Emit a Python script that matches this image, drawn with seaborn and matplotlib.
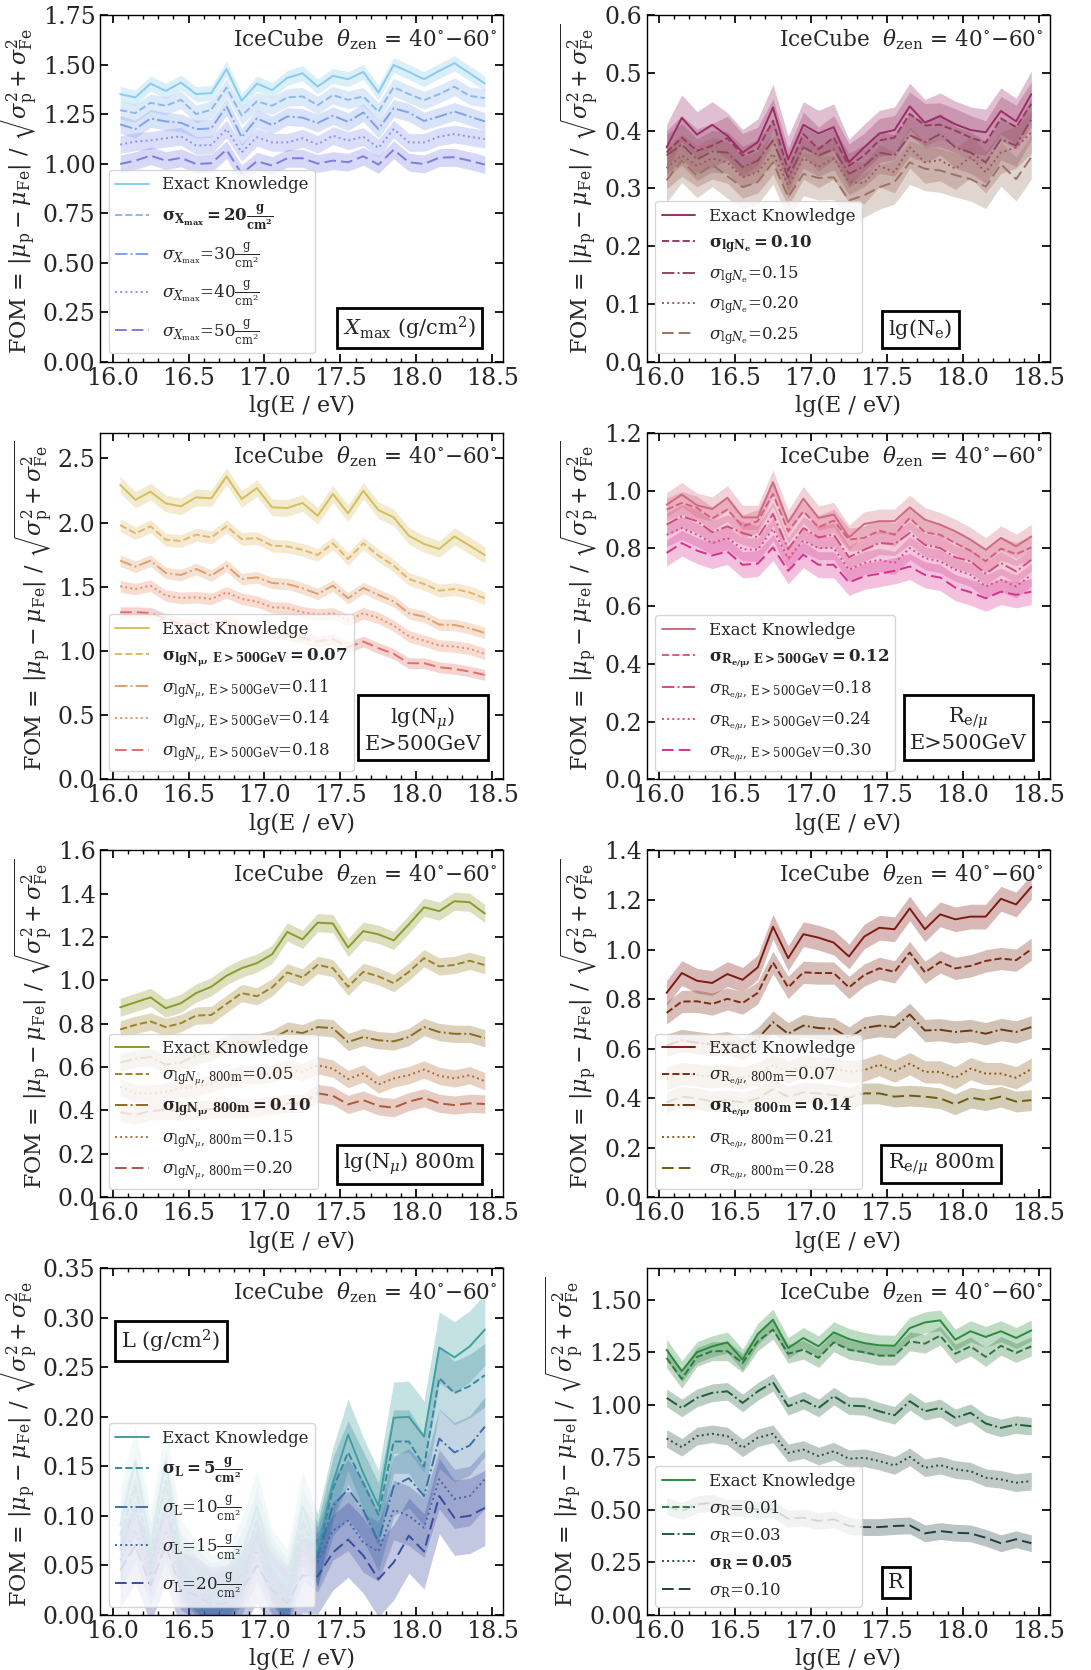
import numpy as np
import matplotlib
matplotlib.use("Agg")
import matplotlib.pyplot as plt
from matplotlib.ticker import MultipleLocator
import seaborn as sns

# energy bin centres, lg(E/eV)
lg_e = [16.05, 16.15, 16.25, 16.35, 16.45, 16.55, 16.65, 16.75, 16.85, 16.95,
        17.05, 17.15, 17.25, 17.35, 17.45, 17.55, 17.65, 17.75, 17.85, 17.95,
        18.05, 18.15, 18.25, 18.35, 18.45]

# --- Xmax
xmax_exact = [1.351, 1.334, 1.404, 1.367, 1.409, 1.351, 1.356, 1.477, 1.317, 1.404, 1.371, 1.433, 1.456,
              1.389, 1.443, 1.426, 1.463, 1.359, 1.498, 1.463, 1.426, 1.468, 1.507, 1.456, 1.404]
xmax_20 = [1.270, 1.255, 1.307, 1.292, 1.322, 1.250, 1.272, 1.384, 1.242, 1.314, 1.292, 1.334, 1.339,
           1.295, 1.346, 1.322, 1.339, 1.262, 1.386, 1.351, 1.320, 1.351, 1.388, 1.342, 1.331]
xmax_30 = [1.198, 1.174, 1.228, 1.213, 1.206, 1.174, 1.178, 1.289, 1.133, 1.228, 1.195, 1.238, 1.232,
           1.205, 1.242, 1.211, 1.258, 1.174, 1.279, 1.258, 1.215, 1.238, 1.263, 1.238, 1.213]
xmax_40 = [1.096, 1.111, 1.117, 1.128, 1.138, 1.091, 1.094, 1.174, 1.057, 1.133, 1.107, 1.107, 1.128,
           1.097, 1.141, 1.116, 1.136, 1.079, 1.174, 1.107, 1.107, 1.136, 1.149, 1.136, 1.124]
xmax_50 = [0.998, 1.015, 1.040, 1.015, 1.029, 0.998, 1.002, 1.070, 0.948, 1.012, 0.990, 1.027, 1.027,
           1.000, 1.015, 1.007, 1.037, 0.995, 1.070, 1.007, 0.998, 1.030, 1.032, 1.015, 0.995]
xmax_err = [0.038, 0.045, 0.045, 0.045, 0.045]

# --- lg(Ne)
ne_exact = [0.371, 0.422, 0.393, 0.410, 0.391, 0.362, 0.380, 0.440, 0.350, 0.410, 0.395, 0.406, 0.345,
            0.371, 0.395, 0.401, 0.442, 0.414, 0.425, 0.411, 0.401, 0.397, 0.434, 0.416, 0.463]
ne_010 = [0.362, 0.388, 0.365, 0.374, 0.387, 0.357, 0.368, 0.417, 0.331, 0.394, 0.368, 0.388, 0.339,
          0.357, 0.383, 0.388, 0.429, 0.409, 0.410, 0.400, 0.388, 0.379, 0.421, 0.406, 0.446]
ne_015 = [0.357, 0.376, 0.350, 0.364, 0.362, 0.337, 0.348, 0.383, 0.319, 0.371, 0.357, 0.368, 0.325,
          0.339, 0.362, 0.357, 0.392, 0.380, 0.394, 0.371, 0.362, 0.345, 0.385, 0.374, 0.420]
ne_020 = [0.335, 0.357, 0.339, 0.352, 0.345, 0.319, 0.328, 0.360, 0.305, 0.352, 0.337, 0.352, 0.311,
          0.309, 0.339, 0.328, 0.371, 0.345, 0.349, 0.334, 0.354, 0.328, 0.362, 0.371, 0.397]
ne_025 = [0.314, 0.348, 0.322, 0.341, 0.321, 0.302, 0.311, 0.345, 0.285, 0.325, 0.318, 0.319, 0.279,
          0.288, 0.302, 0.311, 0.345, 0.334, 0.331, 0.323, 0.316, 0.303, 0.342, 0.316, 0.354]
ne_err = [0.04, 0.038, 0.036, 0.036, 0.038]

# --- lg(N_mu) E>500GeV
nmu500_exact = [2.295, 2.178, 2.241, 2.150, 2.127, 2.197, 2.189, 2.360, 2.184, 2.269, 2.119, 2.114, 2.153,
                2.054, 2.223, 2.072, 2.248, 2.098, 2.041, 1.898, 1.834, 1.795, 1.893, 1.821, 1.748]
nmu500_007 = [1.981, 1.917, 1.971, 1.867, 1.857, 1.906, 1.885, 1.971, 1.872, 1.880, 1.821, 1.815, 1.789,
              1.748, 1.839, 1.717, 1.839, 1.743, 1.665, 1.561, 1.522, 1.470, 1.483, 1.457, 1.411]
nmu500_011 = [1.704, 1.657, 1.704, 1.608, 1.592, 1.639, 1.587, 1.665, 1.561, 1.574, 1.530, 1.522, 1.489,
              1.445, 1.509, 1.411, 1.491, 1.437, 1.387, 1.294, 1.268, 1.206, 1.203, 1.177, 1.141]
nmu500_014 = [1.504, 1.483, 1.509, 1.432, 1.413, 1.419, 1.406, 1.457, 1.406, 1.385, 1.341, 1.336, 1.302,
              1.284, 1.294, 1.242, 1.294, 1.258, 1.198, 1.115, 1.081, 1.043, 1.035, 1.017, 0.978]
nmu500_018 = [1.302, 1.302, 1.297, 1.250, 1.211, 1.211, 1.203, 1.237, 1.185, 1.172, 1.146, 1.126, 1.100,
              1.074, 1.094, 1.030, 1.074, 1.022, 0.978, 0.905, 0.905, 0.874, 0.861, 0.840, 0.814]
nmu500_err = [0.065, 0.05, 0.045, 0.045, 0.042]

# --- R_e/mu E>500GeV
remu500_exact = [0.951, 0.986, 0.949, 0.936, 0.975, 0.907, 0.907, 1.029, 0.890, 0.972, 0.905, 0.917, 0.838,
                 0.884, 0.894, 0.894, 0.942, 0.899, 0.882, 0.859, 0.830, 0.795, 0.836, 0.807, 0.841]
remu500_012 = [0.934, 0.957, 0.940, 0.903, 0.934, 0.876, 0.894, 0.988, 0.859, 0.928, 0.873, 0.896, 0.830,
               0.836, 0.861, 0.847, 0.905, 0.855, 0.847, 0.818, 0.792, 0.755, 0.799, 0.780, 0.803]
remu500_018 = [0.882, 0.911, 0.894, 0.856, 0.876, 0.853, 0.838, 0.919, 0.797, 0.870, 0.838, 0.847, 0.769,
               0.795, 0.818, 0.815, 0.853, 0.812, 0.801, 0.769, 0.755, 0.712, 0.749, 0.720, 0.760]
remu500_024 = [0.847, 0.870, 0.847, 0.818, 0.836, 0.797, 0.795, 0.867, 0.766, 0.826, 0.801, 0.801, 0.726,
               0.749, 0.760, 0.749, 0.801, 0.766, 0.755, 0.726, 0.708, 0.668, 0.691, 0.668, 0.708]
remu500_030 = [0.784, 0.818, 0.792, 0.775, 0.789, 0.743, 0.747, 0.803, 0.722, 0.778, 0.743, 0.743, 0.682,
               0.703, 0.712, 0.722, 0.737, 0.708, 0.699, 0.664, 0.648, 0.627, 0.650, 0.639, 0.650]
remu500_err = [0.042, 0.04, 0.04, 0.04, 0.045]

# --- lg(N_mu) 800m
nmu800_exact = [0.876, 0.899, 0.922, 0.872, 0.895, 0.942, 0.971, 1.022, 1.057, 1.080, 1.121, 1.224, 1.190,
                1.267, 1.263, 1.152, 1.228, 1.213, 1.185, 1.259, 1.338, 1.320, 1.366, 1.361, 1.309]
nmu800_005 = [0.774, 0.795, 0.811, 0.785, 0.803, 0.838, 0.841, 0.892, 0.942, 0.927, 0.968, 1.037, 1.014,
              1.072, 1.057, 0.971, 1.040, 1.019, 0.988, 1.040, 1.103, 1.065, 1.072, 1.091, 1.071]
nmu800_010 = [0.621, 0.639, 0.647, 0.612, 0.621, 0.655, 0.670, 0.708, 0.716, 0.713, 0.731, 0.769, 0.757,
              0.785, 0.780, 0.716, 0.739, 0.724, 0.719, 0.739, 0.785, 0.762, 0.754, 0.754, 0.734]
nmu800_015 = [0.509, 0.479, 0.479, 0.486, 0.502, 0.509, 0.525, 0.548, 0.566, 0.563, 0.571, 0.593, 0.578,
              0.609, 0.593, 0.545, 0.571, 0.520, 0.548, 0.563, 0.589, 0.560, 0.548, 0.563, 0.535]
nmu800_020 = [0.392, 0.379, 0.398, 0.402, 0.398, 0.402, 0.407, 0.410, 0.410, 0.413, 0.425, 0.433, 0.433,
              0.479, 0.468, 0.428, 0.448, 0.421, 0.413, 0.441, 0.459, 0.433, 0.425, 0.433, 0.430]
nmu800_err = [0.042, 0.04, 0.04, 0.04, 0.042]

# --- R_e/mu 800m
remu800_exact = [0.825, 0.905, 0.874, 0.865, 0.901, 0.878, 0.928, 1.092, 0.965, 1.062, 1.048, 1.028, 0.972,
                 1.052, 1.088, 1.082, 1.166, 1.082, 1.142, 1.122, 1.133, 1.133, 1.205, 1.182, 1.253]
remu800_007 = [0.744, 0.790, 0.791, 0.780, 0.801, 0.784, 0.825, 0.948, 0.847, 0.908, 0.905, 0.905, 0.847,
               0.897, 0.924, 0.910, 0.988, 0.908, 0.950, 0.924, 0.934, 0.954, 0.964, 0.957, 1.001]
remu800_014 = [0.613, 0.633, 0.624, 0.616, 0.624, 0.600, 0.640, 0.707, 0.660, 0.693, 0.683, 0.680, 0.643,
               0.683, 0.693, 0.687, 0.738, 0.673, 0.676, 0.667, 0.673, 0.660, 0.677, 0.667, 0.687]
remu800_021 = [0.479, 0.499, 0.493, 0.486, 0.490, 0.482, 0.499, 0.533, 0.506, 0.530, 0.522, 0.519, 0.506,
               0.513, 0.535, 0.509, 0.539, 0.506, 0.506, 0.482, 0.519, 0.499, 0.499, 0.482, 0.517]
remu800_028 = [0.383, 0.406, 0.399, 0.386, 0.392, 0.383, 0.399, 0.436, 0.406, 0.423, 0.419, 0.412, 0.402,
               0.419, 0.419, 0.406, 0.410, 0.406, 0.399, 0.375, 0.402, 0.392, 0.406, 0.386, 0.392]
remu800_err = [0.05, 0.045, 0.045, 0.045, 0.042]

# --- L
l_exact = [0.090, 0.155, 0.070, 0.155, 0.060, 0.040, 0.025, 0.030, 0.060, 0.110, 0.050, 0.030, 0.110,
           0.066, 0.133, 0.182, 0.143, 0.110, 0.199, 0.200, 0.180, 0.270, 0.260, 0.271, 0.288]
l_5 = [0.080, 0.130, 0.060, 0.135, 0.050, 0.035, 0.020, 0.025, 0.050, 0.095, 0.045, 0.025, 0.095,
       0.061, 0.127, 0.164, 0.133, 0.101, 0.175, 0.175, 0.150, 0.239, 0.224, 0.231, 0.242]
l_10 = [0.065, 0.110, 0.050, 0.110, 0.045, 0.030, 0.015, 0.020, 0.040, 0.080, 0.040, 0.020, 0.080,
        0.058, 0.110, 0.127, 0.106, 0.074, 0.130, 0.138, 0.120, 0.178, 0.164, 0.171, 0.190]
l_15 = [0.055, 0.085, 0.040, 0.085, 0.035, 0.025, 0.012, 0.015, 0.030, 0.065, 0.030, 0.015, 0.065,
        0.053, 0.085, 0.095, 0.073, 0.064, 0.106, 0.100, 0.088, 0.137, 0.117, 0.120, 0.137]
l_20 = [0.045, 0.070, 0.030, 0.070, 0.025, 0.020, 0.010, 0.012, 0.025, 0.050, 0.025, 0.012, 0.040,
        0.039, 0.063, 0.076, 0.060, 0.036, 0.053, 0.080, 0.064, 0.120, 0.098, 0.100, 0.108]
l_err = [0.036, 0.032, 0.03, 0.03, 0.038]

# --- R
r_exact = [1.262, 1.160, 1.250, 1.278, 1.297, 1.215, 1.337, 1.405, 1.270, 1.318, 1.278, 1.345, 1.313,
           1.294, 1.283, 1.281, 1.365, 1.392, 1.402, 1.310, 1.350, 1.323, 1.350, 1.318, 1.354]
r_001 = [1.223, 1.123, 1.228, 1.255, 1.255, 1.199, 1.302, 1.358, 1.243, 1.262, 1.223, 1.297, 1.262,
         1.250, 1.234, 1.234, 1.302, 1.291, 1.329, 1.243, 1.278, 1.228, 1.281, 1.247, 1.278]
r_003 = [1.033, 0.985, 1.033, 1.057, 1.064, 1.009, 1.064, 1.107, 0.993, 1.022, 0.985, 1.041, 0.996,
         0.993, 0.969, 0.950, 1.017, 0.969, 0.985, 0.938, 0.962, 0.911, 0.890, 0.906, 0.898]
r_005 = [0.840, 0.798, 0.851, 0.862, 0.851, 0.795, 0.843, 0.862, 0.771, 0.787, 0.756, 0.779, 0.743,
         0.748, 0.732, 0.711, 0.752, 0.700, 0.713, 0.692, 0.684, 0.653, 0.645, 0.629, 0.637]
r_010 = [0.518, 0.494, 0.526, 0.534, 0.510, 0.510, 0.502, 0.502, 0.458, 0.463, 0.447, 0.455, 0.423,
         0.418, 0.418, 0.423, 0.426, 0.388, 0.399, 0.391, 0.388, 0.367, 0.341, 0.360, 0.341]
r_err = [0.05, 0.045, 0.042, 0.042, 0.04]

gfrac = r"\frac{\rm g}{\rm cm^2}"
panels = [
    dict(series=[xmax_exact, xmax_20, xmax_30, xmax_40, xmax_50], err=xmax_err,
         colors=["#88CCEE", "#8DB8EE", "#7FA2EA", "#8A94EE", "#7B7DE6"],
         labels=["Exact Knowledge",
                 r"$\mathbf{\sigma_{X_{max}} = 20\frac{g}{cm^2}}$",
                 r"$\sigma_{X_{\rm max}}$=30$" + gfrac + "$",
                 r"$\sigma_{X_{\rm max}}$=40$" + gfrac + "$",
                 r"$\sigma_{X_{\rm max}}$=50$" + gfrac + "$"],
         ylim=1.75, ystep=0.25, box=r"$X_{\rm max}$ (g/cm$^2$)", boxpos=(0.768, 0.097)),
    dict(series=[ne_exact, ne_010, ne_015, ne_020, ne_025], err=ne_err,
         colors=["#9B2D6A", "#9A3A62", "#8E4A5E", "#9A5A60", "#9B7460"],
         labels=["Exact Knowledge",
                 r"$\mathbf{\sigma_{lgN_e} = 0.10}$",
                 r"$\sigma_{{\rm lg}N_{\rm e}}$=0.15",
                 r"$\sigma_{{\rm lg}N_{\rm e}}$=0.20",
                 r"$\sigma_{{\rm lg}N_{\rm e}}$=0.25"],
         ylim=0.6, ystep=0.1, box=r"lg(N$_{\rm e}$)", boxpos=(0.679, 0.093)),
    dict(series=[nmu500_exact, nmu500_007, nmu500_011, nmu500_014, nmu500_018], err=nmu500_err,
         colors=["#D4BE5E", "#E0B86A", "#E0A070", "#E88E6A", "#E07068"],
         labels=["Exact Knowledge",
                 r"$\mathbf{\sigma_{lgN_\mu,\,E>500GeV} = 0.07}$",
                 r"$\sigma_{{\rm lg}N_\mu,\,{\rm E>500GeV}}$=0.11",
                 r"$\sigma_{{\rm lg}N_\mu,\,{\rm E>500GeV}}$=0.14",
                 r"$\sigma_{{\rm lg}N_\mu,\,{\rm E>500GeV}}$=0.18"],
         ylim=2.7, ystep=0.5, box="lg(N$_\\mu$)\nE>500GeV", boxpos=(0.801, 0.144)),
    dict(series=[remu500_exact, remu500_012, remu500_018, remu500_024, remu500_030], err=remu500_err,
         colors=["#D06A80", "#DA5C82", "#D24C80", "#DA4A92", "#D83090"],
         labels=["Exact Knowledge",
                 r"$\mathbf{\sigma_{R_{e/\mu},\,E>500GeV} = 0.12}$",
                 r"$\sigma_{{\rm R}_{{\rm e}/\mu},\,{\rm E>500GeV}}$=0.18",
                 r"$\sigma_{{\rm R}_{{\rm e}/\mu},\,{\rm E>500GeV}}$=0.24",
                 r"$\sigma_{{\rm R}_{{\rm e}/\mu},\,{\rm E>500GeV}}$=0.30"],
         ylim=1.2, ystep=0.2, box="R$_{{\\rm e}/\\mu}$\nE>500GeV", boxpos=(0.798, 0.144)),
    dict(series=[nmu800_exact, nmu800_005, nmu800_010, nmu800_015, nmu800_020], err=nmu800_err,
         colors=["#8C9A2C", "#9C8428", "#8E6A24", "#B06A38", "#B0583A"],
         labels=["Exact Knowledge",
                 r"$\sigma_{{\rm lg}N_\mu,\,{\rm 800m}}$=0.05",
                 r"$\mathbf{\sigma_{lgN_\mu,\,800m} = 0.10}$",
                 r"$\sigma_{{\rm lg}N_\mu,\,{\rm 800m}}$=0.15",
                 r"$\sigma_{{\rm lg}N_\mu,\,{\rm 800m}}$=0.20"],
         ylim=1.6, ystep=0.2, box=r"lg(N$_\mu$) 800m", boxpos=(0.768, 0.095)),
    dict(series=[remu800_exact, remu800_007, remu800_014, remu800_021, remu800_028], err=remu800_err,
         colors=["#7E1A12", "#7E2A14", "#6A3A12", "#8A5A1A", "#6E5A10"],
         labels=["Exact Knowledge",
                 r"$\sigma_{{\rm R}_{{\rm e}/\mu},\,{\rm 800m}}$=0.07",
                 r"$\mathbf{\sigma_{R_{e/\mu},\,800m} = 0.14}$",
                 r"$\sigma_{{\rm R}_{{\rm e}/\mu},\,{\rm 800m}}$=0.21",
                 r"$\sigma_{{\rm R}_{{\rm e}/\mu},\,{\rm 800m}}$=0.28"],
         ylim=1.4, ystep=0.2, box=r"R$_{{\rm e}/\mu}$ 800m", boxpos=(0.731, 0.095)),
    dict(series=[l_exact, l_5, l_10, l_15, l_20], err=l_err,
         colors=["#40A0A0", "#3A88A0", "#3A72A8", "#4A62A8", "#3A4AA0"],
         labels=["Exact Knowledge",
                 r"$\mathbf{\sigma_L = 5\frac{g}{cm^2}}$",
                 r"$\sigma_{\rm L}$=10$" + gfrac + "$",
                 r"$\sigma_{\rm L}$=15$" + gfrac + "$",
                 r"$\sigma_{\rm L}$=20$" + gfrac + "$"],
         ylim=0.35, ystep=0.05, box=r"L (g/cm$^2$)", boxpos=(0.175, 0.79)),
    dict(series=[r_exact, r_001, r_003, r_005, r_010], err=r_err,
         colors=["#2A8A3E", "#2A7A3A", "#1E5E3A", "#2A4E42", "#1E3E40"],
         labels=["Exact Knowledge",
                 r"$\sigma_{\rm R}$=0.01",
                 r"$\sigma_{\rm R}$=0.03",
                 r"$\mathbf{\sigma_R = 0.05}$",
                 r"$\sigma_{\rm R}$=0.10"],
         ylim=1.65, ystep=0.25, box="R", boxpos=(0.618, 0.094)),
]

styles = ["-", "--", "-.", ":", (0, (6, 2.6))]

sns.set_theme(style="ticks")
plt.rcParams["font.family"] = ["DejaVu Serif"]
plt.rcParams["mathtext.fontset"] = "dejavuserif"
plt.rcParams["axes.edgecolor"] = "black"
plt.rcParams["axes.linewidth"] = 1.0

fig, axes = plt.subplots(4, 2, figsize=(10.91, 16.70), dpi=100)
plt.subplots_adjust(left=0.092, right=0.962, bottom=0.033, top=0.991, wspace=0.357, hspace=0.205)

for ax, p in zip(axes.flat, panels):
    for y, e, c, ls, lab in zip(p["series"], p["err"], p["colors"], styles, p["labels"]):
        y = np.array(y)
        ax.fill_between(lg_e, y - e, y + e, color=c, alpha=0.3, lw=0)
        sns.lineplot(x=lg_e, y=y, ax=ax, color=c, linestyle=ls, lw=1.4, label=lab)

    ax.set_xlim(15.92, 18.57)
    ax.set_ylim(0, p["ylim"])
    ax.xaxis.set_major_locator(MultipleLocator(0.5))
    ax.xaxis.set_minor_locator(MultipleLocator(0.1))
    ax.yaxis.set_major_locator(MultipleLocator(p["ystep"]))
    ax.tick_params(which="both", direction="in", top=True, right=True, labelsize=17, color="black")
    ax.tick_params(which="major", length=6)
    ax.tick_params(which="minor", length=3)
    ax.set_xlabel("lg(E / eV)", fontsize=16)
    ax.set_ylabel(r"FOM = $|\mu_{\rm p} - \mu_{\rm Fe}|$ / $\sqrt{\sigma_{\rm p}^2 + \sigma_{\rm Fe}^2}$",
                  fontsize=16, labelpad=2)
    ax.text(0.985, 0.965, r"IceCube  $\theta_{\rm zen}$ = 40$^{\circ}$$-$60$^{\circ}$",
            transform=ax.transAxes, ha="right", va="top", fontsize=15.5)
    ax.text(p["boxpos"][0], p["boxpos"][1], p["box"], transform=ax.transAxes, ha="center",
            va="center", fontsize=15, multialignment="center", zorder=6,
            bbox=dict(boxstyle="square,pad=0.3", fc="white", ec="black", lw=2))
    ax.legend(loc="lower left", fontsize=12)

plt.savefig("out.png", dpi=100)
